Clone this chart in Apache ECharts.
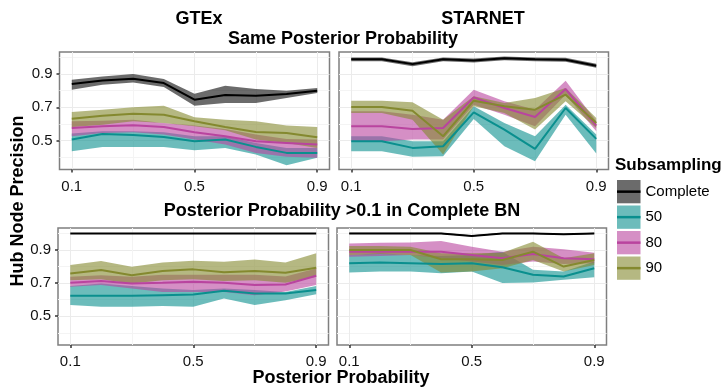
<!DOCTYPE html>
<html>
<head>
<meta charset="utf-8">
<script src="https://cdn.jsdelivr.net/npm/echarts@6/dist/echarts.min.js"></script>
<style>
html, body { margin: 0; padding: 0; background: #fff; }
#main { width: 722px; height: 388px; }
</style>
</head>
<body>
<div id="main"></div>
<script>
var FONT = '"Liberation Sans", Arial, Helvetica, sans-serif';

var xValues = [0.1, 0.2, 0.3, 0.4, 0.5, 0.6, 0.7, 0.8, 0.9];
var xTicks = [0.1, 0.5, 0.9];
var xMinorTicks = [0.3, 0.7];
var yTicks = [0.5, 0.7, 0.9];
var yMinorTicks = [0.4, 0.6, 0.8, 1.0];
var groupNames = ["Complete", "50", "80", "90"];

// GTEx, same posterior probability
var gtexSameComplete = [0.84, 0.862, 0.872, 0.846, 0.746, 0.774, 0.77, 0.78, 0.80];
var gtexSameCompleteLow = [0.806, 0.836, 0.85, 0.822, 0.71, 0.726, 0.726, 0.756, 0.786];
var gtexSameCompleteHigh = [0.866, 0.886, 0.90, 0.87, 0.782, 0.83, 0.81, 0.80, 0.816];
var gtexSame50 = [0.506, 0.54, 0.534, 0.522, 0.496, 0.506, 0.462, 0.426, 0.426];
var gtexSame50Low = [0.436, 0.462, 0.462, 0.462, 0.442, 0.456, 0.416, 0.352, 0.396];
var gtexSame50High = [0.542, 0.556, 0.556, 0.55, 0.526, 0.526, 0.486, 0.456, 0.456];
var gtexSame80 = [0.576, 0.586, 0.592, 0.582, 0.55, 0.526, 0.496, 0.486, 0.476];
var gtexSame80Low = [0.526, 0.546, 0.55, 0.536, 0.506, 0.476, 0.426, 0.402, 0.396];
var gtexSame80High = [0.616, 0.62, 0.626, 0.606, 0.59, 0.57, 0.536, 0.51, 0.506];
var gtexSame90 = [0.632, 0.65, 0.662, 0.656, 0.616, 0.582, 0.552, 0.546, 0.52];
var gtexSame90Low = [0.582, 0.596, 0.616, 0.606, 0.586, 0.562, 0.506, 0.486, 0.456];
var gtexSame90High = [0.672, 0.686, 0.70, 0.71, 0.64, 0.626, 0.616, 0.59, 0.582];

// STARNET, same posterior probability
var starSameComplete = [0.99, 0.99, 0.96, 0.99, 0.982, 0.996, 0.99, 0.986, 0.95];
var starSameCompleteLow = [0.978, 0.978, 0.948, 0.978, 0.97, 0.984, 0.978, 0.974, 0.938];
var starSameCompleteHigh = [1.0, 1.0, 0.972, 1.0, 0.994, 1.006, 1.0, 0.998, 0.962];
var starSame50 = [0.496, 0.496, 0.456, 0.466, 0.67, 0.566, 0.45, 0.696, 0.51];
var starSame50Low = [0.436, 0.436, 0.402, 0.406, 0.63, 0.466, 0.376, 0.656, 0.422];
var starSame50High = [0.526, 0.526, 0.496, 0.496, 0.706, 0.606, 0.526, 0.716, 0.536];
var starSame80 = [0.586, 0.586, 0.57, 0.576, 0.76, 0.696, 0.642, 0.81, 0.59];
var starSame80Low = [0.496, 0.496, 0.506, 0.506, 0.716, 0.656, 0.586, 0.776, 0.556];
var starSame80High = [0.676, 0.676, 0.656, 0.626, 0.806, 0.736, 0.686, 0.86, 0.616];
var starSame90 = [0.702, 0.702, 0.68, 0.526, 0.74, 0.706, 0.686, 0.776, 0.606];
var starSame90Low = [0.666, 0.666, 0.626, 0.416, 0.706, 0.666, 0.566, 0.736, 0.576];
var starSame90High = [0.74, 0.74, 0.73, 0.626, 0.766, 0.726, 0.756, 0.816, 0.636];

// GTEx, posterior probability >0.1 in complete BN
var gtexPpComplete = [1.0, 1.0, 1.0, 1.0, 1.0, 1.0, 1.0, 1.0, 1.0];
var gtexPpCompleteLow = [1.0, 1.0, 1.0, 1.0, 1.0, 1.0, 1.0, 1.0, 1.0];
var gtexPpCompleteHigh = [1.0, 1.0, 1.0, 1.0, 1.0, 1.0, 1.0, 1.0, 1.0];
var gtexPp50 = [0.623, 0.623, 0.623, 0.627, 0.631, 0.654, 0.637, 0.637, 0.658];
var gtexPp50Low = [0.567, 0.557, 0.557, 0.561, 0.557, 0.607, 0.567, 0.597, 0.633];
var gtexPp50High = [0.682, 0.698, 0.682, 0.668, 0.658, 0.668, 0.658, 0.647, 0.682];
var gtexPp80 = [0.702, 0.712, 0.698, 0.702, 0.708, 0.702, 0.688, 0.692, 0.744];
var gtexPp80Low = [0.678, 0.688, 0.668, 0.647, 0.647, 0.647, 0.627, 0.65, 0.688];
var gtexPp80High = [0.738, 0.748, 0.738, 0.75, 0.75, 0.75, 0.75, 0.74, 0.789];
var gtexPp90 = [0.758, 0.779, 0.748, 0.773, 0.783, 0.765, 0.773, 0.763, 0.793];
var gtexPp90Low = [0.718, 0.724, 0.698, 0.718, 0.724, 0.712, 0.718, 0.702, 0.738];
var gtexPp90High = [0.809, 0.833, 0.799, 0.825, 0.835, 0.829, 0.843, 0.825, 0.88];

// STARNET, posterior probability >0.1 in complete BN
var starPpComplete = [1.0, 1.0, 1.0, 1.0, 0.985, 1.0, 1.0, 0.995, 1.0];
var starPpCompleteLow = [0.996, 0.996, 0.996, 0.996, 0.981, 0.996, 0.996, 0.991, 0.996];
var starPpCompleteHigh = [1.004, 1.004, 1.004, 1.004, 0.989, 1.004, 1.004, 0.999, 1.004];
var starPp50 = [0.82, 0.824, 0.82, 0.816, 0.82, 0.796, 0.75, 0.74, 0.79];
var starPp50Low = [0.764, 0.77, 0.77, 0.76, 0.77, 0.70, 0.704, 0.72, 0.736];
var starPp50High = [0.87, 0.88, 0.87, 0.864, 0.87, 0.89, 0.78, 0.77, 0.83];
var starPp80 = [0.89, 0.89, 0.89, 0.89, 0.87, 0.85, 0.876, 0.85, 0.844];
var starPp80Low = [0.86, 0.864, 0.87, 0.85, 0.83, 0.81, 0.83, 0.816, 0.82];
var starPp80High = [0.94, 0.944, 0.946, 0.954, 0.92, 0.89, 0.92, 0.904, 0.884];
var starPp90 = [0.9, 0.9, 0.9, 0.844, 0.844, 0.84, 0.89, 0.8, 0.84];
var starPp90Low = [0.87, 0.876, 0.87, 0.764, 0.77, 0.79, 0.84, 0.77, 0.81];
var starPp90High = [0.924, 0.924, 0.92, 0.88, 0.88, 0.884, 0.95, 0.85, 0.88];

// line colour and ribbon colour per subsampling group
var lineColors = ["#000000", "#0a8f8e", "#b9449f", "#84892f"];
var bandColors = ["rgba(0,0,0,0.58)", "rgba(10,143,142,0.6)", "rgba(185,68,159,0.6)", "rgba(132,137,47,0.6)"];

// panel layout: [left, top, width, height]
var panelRects = [
    [59.5, 52, 270, 117.5],
    [339, 52, 269.5, 117.5],
    [58, 228, 270.5, 117],
    [337, 228, 269.5, 117]
];

var panelData = [
    { mean: [gtexSameComplete, gtexSame50, gtexSame80, gtexSame90],
      low: [gtexSameCompleteLow, gtexSame50Low, gtexSame80Low, gtexSame90Low],
      high: [gtexSameCompleteHigh, gtexSame50High, gtexSame80High, gtexSame90High] },
    { mean: [starSameComplete, starSame50, starSame80, starSame90],
      low: [starSameCompleteLow, starSame50Low, starSame80Low, starSame90Low],
      high: [starSameCompleteHigh, starSame50High, starSame80High, starSame90High] },
    { mean: [gtexPpComplete, gtexPp50, gtexPp80, gtexPp90],
      low: [gtexPpCompleteLow, gtexPp50Low, gtexPp80Low, gtexPp90Low],
      high: [gtexPpCompleteHigh, gtexPp50High, gtexPp80High, gtexPp90High] },
    { mean: [starPpComplete, starPp50, starPp80, starPp90],
      low: [starPpCompleteLow, starPp50Low, starPp80Low, starPp90Low],
      high: [starPpCompleteHigh, starPp50High, starPp80High, starPp90High] }
];

var grids = [], xAxes = [], yAxes = [], bands = [], lines = [];

// ribbon drawn as one polygon through the axis scale
function makeBand(g, k) {
    var low = panelData[g].low[k];
    var high = panelData[g].high[k];
    var data = [];
    for (var i = 0; i < xValues.length; i++) {
        data.push([xValues[i], low[i], high[i]]);
    }
    return {
        type: "custom",
        name: groupNames[k],
        xAxisIndex: g * 2,
        yAxisIndex: g * 2,
        data: data,
        encode: { x: 0, y: [1, 2] },
        silent: true,
        renderItem: function (params, api) {
            if (params.dataIndex !== 0) return null;
            var pts = [];
            for (var i = 0; i < data.length; i++) pts.push(api.coord([data[i][0], data[i][1]]));
            for (var j = data.length - 1; j >= 0; j--) pts.push(api.coord([data[j][0], data[j][2]]));
            return {
                type: "polygon",
                shape: { points: pts },
                style: { fill: bandColors[k], stroke: null }
            };
        }
    };
}

function makeLine(g, k) {
    var vals = panelData[g].mean[k];
    var data = [];
    for (var i = 0; i < xValues.length; i++) data.push([xValues[i], vals[i]]);
    return {
        type: "line",
        name: groupNames[k],
        xAxisIndex: g * 2,
        yAxisIndex: g * 2,
        data: data,
        symbol: "none",
        silent: true,
        lineStyle: { color: lineColors[k], width: 2 },
        itemStyle: { color: lineColors[k] }
    };
}

for (var g = 0; g < 4; g++) {
    var r = panelRects[g];
    var showY = (g % 2 === 0);
    grids.push({
        left: r[0], top: r[1], width: r[2], height: r[3],
        show: true, borderColor: "#7f7f7f", borderWidth: 1.5, backgroundColor: "#fff"
    });
    // major x axis
    xAxes.push({
        type: "value", gridIndex: g, min: 0.06, max: 0.94,
        axisLine: { show: false },
        axisTick: { show: true, customValues: xTicks, length: 3, lineStyle: { color: "#333", width: 1.5 } },
        axisLabel: { customValues: xTicks, margin: 9.5, fontSize: 15, fontFamily: FONT, color: "#111",
            formatter: function (v) { return v.toFixed(1); } },
        splitLine: { show: true, lineStyle: { color: "#ebebeb", width: 1 } }
    });
    // minor x grid
    xAxes.push({
        type: "value", gridIndex: g, min: 0.06, max: 0.94,
        axisLine: { show: false },
        axisTick: { show: false, customValues: xMinorTicks },
        axisLabel: { show: false },
        splitLine: { show: true, lineStyle: { color: "#f4f4f4", width: 1 } }
    });
    yAxes.push({
        type: "value", gridIndex: g, min: 0.326, max: 1.033,
        axisLine: { show: false },
        axisTick: { show: showY, customValues: yTicks, length: 3, lineStyle: { color: "#333", width: 1.5 } },
        axisLabel: { show: showY, customValues: yTicks, margin: 7, fontSize: 15, fontFamily: FONT, color: "#111",
            formatter: function (v) { return v.toFixed(1); } },
        splitLine: { show: true, lineStyle: { color: "#ebebeb", width: 1 } }
    });
    yAxes.push({
        type: "value", gridIndex: g, min: 0.326, max: 1.033,
        axisLine: { show: false },
        axisTick: { show: false, customValues: yMinorTicks },
        axisLabel: { show: false },
        splitLine: { show: true, lineStyle: { color: "#f4f4f4", width: 1 } }
    });
    for (var k = 0; k < 4; k++) {
        bands.push(makeBand(g, k));
        lines.push(makeLine(g, k));
    }
}

var titleStyle = { fontSize: 18, fontWeight: "bold", fontFamily: FONT, color: "#000" };

function centerTitle(text, x, y) {
    return { text: text, left: x, top: y, textAlign: "center", textVerticalAlign: "middle",
        padding: 0, textStyle: titleStyle };
}

var legendFill = [], legendLine = [];
for (var k = 0; k < 4; k++) {
    legendFill.push({ name: groupNames[k], icon: "rect", itemStyle: { color: bandColors[k], borderWidth: 0 } });
    legendLine.push({ name: groupNames[k], icon: "rect", itemStyle: { color: lineColors[k], borderWidth: 0 } });
}

var option = {
    animation: false,
    backgroundColor: "#fff",
    title: [
        centerTitle("GTEx", 199, 19),
        centerTitle("STARNET", 483, 19),
        centerTitle("Same Posterior Probability", 343, 39),
        centerTitle("Posterior Probability >0.1 in Complete BN", 342, 211.5),
        centerTitle("Posterior Probability", 341, 378),
        { text: "Subsampling", left: 615, top: 165.5, textVerticalAlign: "middle", padding: 0,
          textStyle: { fontSize: 17, fontWeight: "bold", fontFamily: FONT, color: "#000" } }
    ],
    legend: [{
        orient: "vertical", left: 617, top: 180, padding: 0,
        itemWidth: 23.5, itemHeight: 23.3, itemGap: 2.2, selectedMode: false,
        itemStyle: { borderWidth: 0 },
        textStyle: { fontSize: 15, fontFamily: FONT, color: "#000", lineHeight: 23.3 },
        data: legendFill
    }, {
        orient: "vertical", left: 617, top: 180, padding: 0,
        itemWidth: 23.5, itemHeight: 2.5, itemGap: 2.2, selectedMode: false,
        itemStyle: { borderWidth: 0 },
        textStyle: { fontSize: 15, fontFamily: FONT, color: "rgba(0,0,0,0)", lineHeight: 23.3 },
        data: legendLine
    }],
    graphic: [{
        type: "text", x: 18, y: 201, rotation: Math.PI / 2,
        style: { text: "Hub Node Precision", font: "bold 18px " + FONT, fill: "#000",
            textAlign: "center", textVerticalAlign: "middle" }
    }],
    grid: grids,
    xAxis: xAxes,
    yAxis: yAxes,
    series: bands.concat(lines)
};

var chart = echarts.init(document.getElementById("main"), null, { renderer: "canvas" });
chart.setOption(option);
</script>
</body>
</html>
